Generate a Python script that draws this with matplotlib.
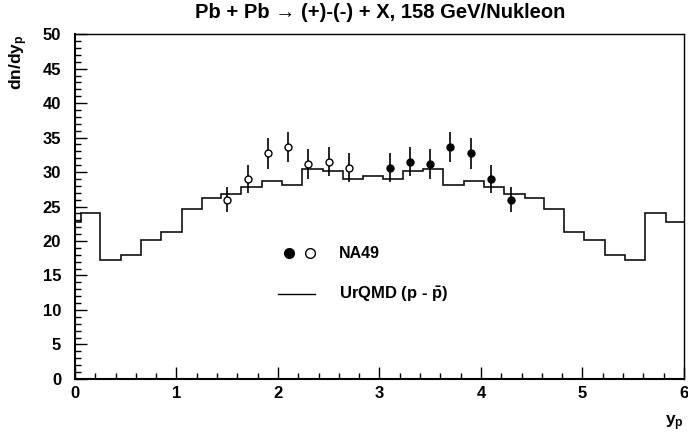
import numpy as np
import matplotlib
matplotlib.use("Agg")
import matplotlib.pyplot as plt

plt.rcParams['font.family'] = ['Liberation Sans', 'DejaVu Sans']
plt.rcParams['font.weight'] = 'bold'
plt.rcParams['mathtext.fontset'] = 'custom'
plt.rcParams['mathtext.rm'] = 'Liberation Sans:bold'
plt.rcParams['mathtext.it'] = 'Liberation Sans:bold'
plt.rcParams['mathtext.bf'] = 'Liberation Sans:bold'
plt.rcParams['mathtext.default'] = 'rm'

# UrQMD histogram (p - pbar)
bin_edges = [-0.14, 0.06, 0.25, 0.45, 0.65, 0.85, 1.05, 1.25, 1.44, 1.64, 1.84,
             2.04, 2.24, 2.44, 2.64, 2.84, 3.04, 3.23, 3.43, 3.63, 3.83, 4.03,
             4.23, 4.43, 4.62, 4.82, 5.02, 5.22, 5.42, 5.62, 5.82, 6.02]
urqmd = [22.7, 24.0, 17.2, 17.9, 20.2, 21.3, 24.6, 26.3, 26.8, 27.8, 28.7,
         28.1, 30.4, 30.1, 29.0, 29.4, 29.0, 30.1, 30.4, 28.1, 28.7, 27.8,
         26.8, 26.3, 24.6, 21.3, 20.2, 18.0, 17.2, 24.0, 22.7]

# NA49 measured (filled) and reflected (open)
y_filled = [3.1, 3.3, 3.5, 3.7, 3.9, 4.1, 4.3]
dn_filled = [30.6, 31.5, 31.2, 33.6, 32.7, 29.0, 26.0]
err_filled = [2.1, 2.1, 2.2, 2.2, 2.3, 2.0, 1.8]
y_open = [1.5, 1.7, 1.9, 2.1, 2.3, 2.5, 2.7]
dn_open = [26.0, 29.0, 32.7, 33.6, 31.2, 31.5, 30.6]
err_open = [1.8, 2.0, 2.3, 2.2, 2.2, 2.1, 2.1]

fig = plt.figure(figsize=(6.88, 4.38), dpi=100)
ax = fig.add_axes([0.109, 0.135, 0.885, 0.787])

ax.stairs(urqmd, bin_edges, color='#111111', lw=1.2, clip_on=True)

ax.errorbar(y_open, dn_open, yerr=err_open, fmt='o', ms=5, mfc='white',
            mec='black', mew=1.0, ecolor='black', elinewidth=1.2, capsize=0)
ax.errorbar(y_filled, dn_filled, yerr=err_filled, fmt='o', ms=5, mfc='black',
            mec='black', ecolor='black', elinewidth=1.2, capsize=0)

# legend drawn by hand like the ROOT one
ax.plot([0.352], [0.365], 'o', ms=7, mfc='black', mec='black', transform=ax.transAxes)
ax.plot([0.386], [0.365], 'o', ms=7, mfc='white', mec='black', mew=1.0, transform=ax.transAxes)
ax.text(0.434, 0.365, 'NA49', transform=ax.transAxes, fontsize=11.5,
        fontweight='bold', va='center', ha='left')
ax.plot([0.334, 0.394], [0.245, 0.245], color='black', lw=1.0, transform=ax.transAxes)
ax.text(0.434, 0.245, r'UrQMD (p - $\bar{\mathrm{p}}$)', transform=ax.transAxes,
        fontsize=12, fontweight='bold', va='center', ha='left')

ax.set_xlim(0, 6)
ax.set_ylim(0, 50)
ax.set_xticks(np.arange(0, 7, 1))
ax.set_xticks(np.arange(0, 6.01, 0.2), minor=True)
ax.set_yticks(np.arange(0, 51, 5))
ax.set_yticks(np.arange(0, 51, 1), minor=True)
ax.tick_params(axis='both', which='both', direction='in', top=False, right=False,
               labelsize=12, width=1.0)
ax.tick_params(axis='x', which='major', length=9, pad=5)
ax.tick_params(axis='x', which='minor', length=4.5)
ax.tick_params(axis='y', which='major', length=8.5, pad=10)
ax.tick_params(axis='y', which='minor', length=4.3)
for lbl in ax.get_xticklabels() + ax.get_yticklabels():
    lbl.set_fontweight('bold')

ax.spines['left'].set_linewidth(1.5)
ax.spines['bottom'].set_linewidth(1.5)
ax.spines['top'].set_linewidth(1.0)
ax.spines['right'].set_linewidth(1.0)

ax.set_xlabel(r'y$_\mathrm{p}$', fontsize=12.5, fontweight='bold')
ax.xaxis.set_label_coords(1.0, -0.1)
ax.xaxis.label.set_ha('right')
ax.set_ylabel(r'dn/dy$_\mathrm{p}$', fontsize=12.5, fontweight='bold')
ax.yaxis.set_label_coords(-0.093, 1.0)
ax.yaxis.label.set_va('center')
ax.yaxis.label.set_ha('right')

fig.text(0.552, 0.972, 'Pb + Pb \u2192 (+)-(-) + X, 158 GeV/Nukleon',
         ha='center', va='center', fontsize=14.5, fontweight='bold')

fig.savefig('out.png', dpi=100)
